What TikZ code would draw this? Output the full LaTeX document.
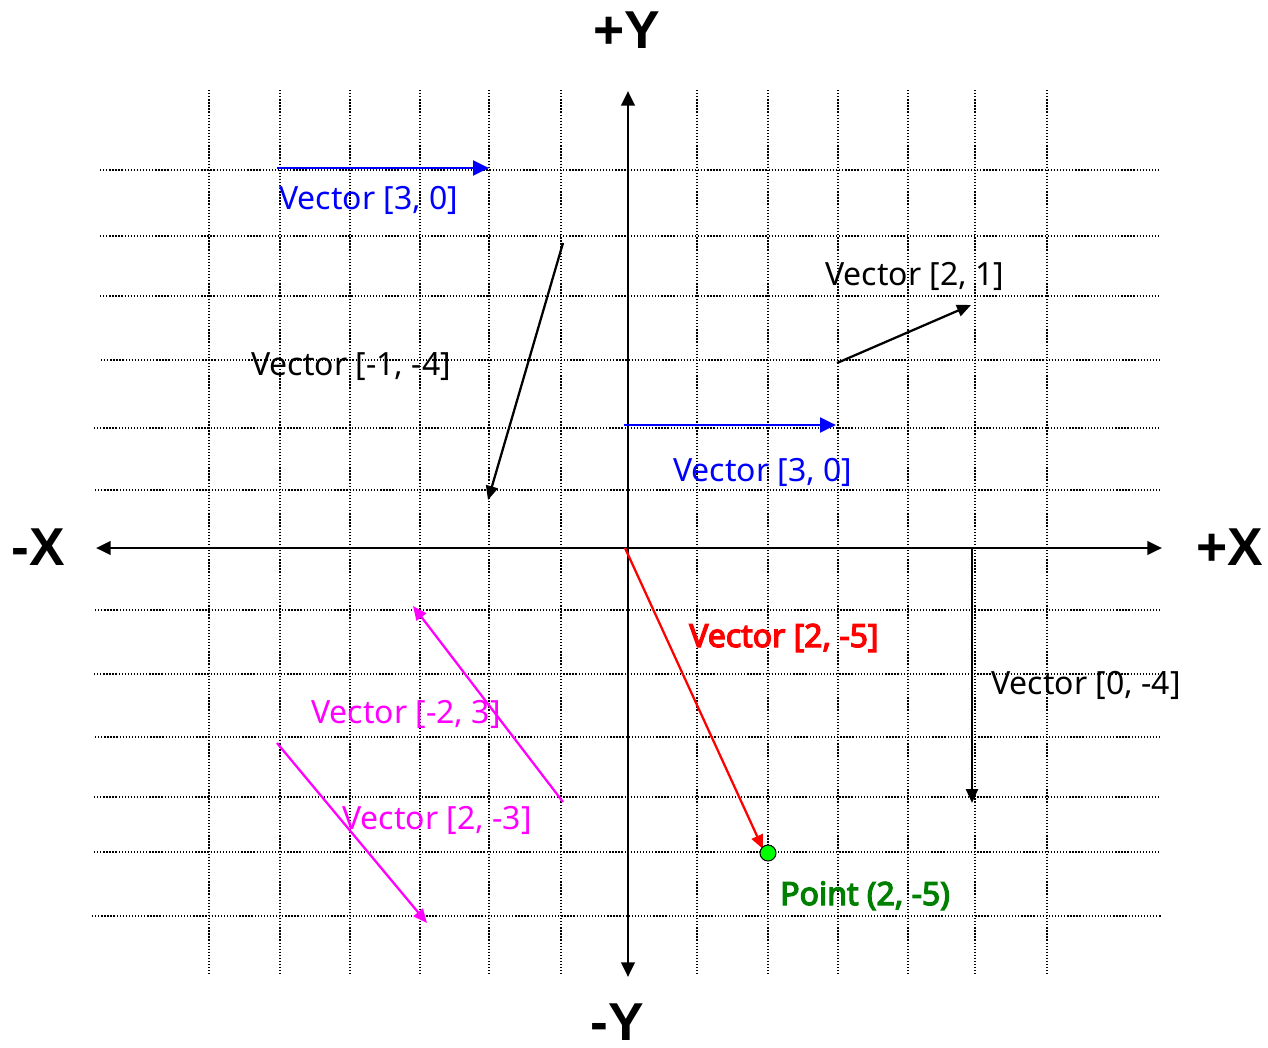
\documentclass[tikz,border=0pt]{standalone}
\usepackage{fontspec}
\setmainfont{Noto Sans}
\newfontfamily\boldvec{Noto Sans}[FakeBold=4]
\newfontfamily\axisfont{Liberation Sans}
\usetikzlibrary{arrows.meta}
\definecolor{vblue}{RGB}{0,0,255}
\definecolor{vmag}{RGB}{255,0,255}
\definecolor{vred}{RGB}{255,0,0}
\definecolor{vgreen}{RGB}{0,128,0}
\definecolor{ptgreen}{RGB}{0,255,0}
\tikzset{
  gridline/.style={line width=1pt, dash pattern=on 1pt off 1.3pt, black},
  axisline/.style={line width=2.2pt, -{Triangle[length=11pt,width=10pt]}},
  axislabel/.style={font=\axisfont\bfseries\fontsize{40}{48}\selectfont, inner sep=0pt},
  veclabel/.style={font=\fontsize{24}{28}\selectfont, inner sep=0pt, anchor=base west},
  boldlabel/.style={veclabel, font=\boldvec\fontsize{24}{28}\selectfont},
  vecbig/.style={line width=2.2pt, -{Triangle[length=12pt,width=11pt]}},
  vecthin/.style={line width=1.7pt, -{Triangle[length=10.5pt,width=9pt]}},
}
\begin{document}
\begin{tikzpicture}[x=0.75pt,y=-0.75pt]
\useasboundingbox (0,0) rectangle (1268,1047);
% grid
\foreach \gx in {209,280,350,420,489,561,697,768,838,908,975,1047}
  \draw[gridline] (\gx,90) -- (\gx,974);
\foreach \gy/\gs in {170/100,236/100,296/100,360/101,428/94,490/95,610/95,674/94,737/95,797/94,852/94,916/92}
  \draw[gridline] (\gs,\gy) -- (1161,\gy);
% axes
\coordinate (O) at (628,548);
\coordinate (xl) at (96,548);
\coordinate (xr) at (1162,548);
\coordinate (yt) at (628,91);
\coordinate (yb) at (628,977);
\draw[axisline] (O) -- (xr);
\draw[axisline] (O) -- (xl);
\draw[axisline] (O) -- (yt);
\draw[axisline] (O) -- (yb);
\node[axislabel] (lY) at (627,30) {+Y};
\node[axislabel] (lmY) at (617,1022) {-Y};
\node[axislabel] (lmX) at (38,547) {-X};
\node[axislabel] (lX) at (1230,547) {+X};
% vectors
\coordinate (b1s) at (277,168); \coordinate (b1e) at (489,168);
\coordinate (b2s) at (624,425); \coordinate (b2e) at (836,425);
\coordinate (k1s) at (563,243); \coordinate (k1e) at (488,500);
\coordinate (k2s) at (837,363); \coordinate (k2e) at (971,305);
\coordinate (k3s) at (972,548); \coordinate (k3e) at (972,803);
\coordinate (rs) at (625,548); \coordinate (re) at (763,849);
\coordinate (m1s) at (563,802); \coordinate (m1e) at (413,606);
\coordinate (m2s) at (277,743); \coordinate (m2e) at (427,923);
\draw[vecbig, vblue] (b1s) -- (b1e);
\draw[vecbig, vblue] (b2s) -- (b2e);
\draw[vecthin, black] (k1s) -- (k1e);
\draw[vecthin, black] (k2s) -- (k2e);
\draw[vecthin, black] (k3s) -- (k3e);
\draw[vecthin, vred] (rs) -- (re);
\draw[vecthin, vmag] (m1s) -- (m1e);
\draw[vecthin, vmag] (m2s) -- (m2e);
\node[circle, draw=black, fill=ptgreen, line width=0.75pt, minimum size=12pt, inner sep=0pt] (pt) at (768,853) {};
% labels
\node[veclabel, text=vblue] (t1) at (279,209) {Vector [3, 0]};
\node[veclabel] (t2) at (825,285) {Vector [2, 1]};
\node[veclabel] (t3) at (251,375) {Vector [-1, -4]};
\node[veclabel, text=vblue] (t4) at (673,481) {Vector [3, 0]};
\node[boldlabel, text=vred] (t5) at (689,647) {Vector [2, -5]};
\node[veclabel] (t6) at (991,694) {Vector [0, -4]};
\node[veclabel, text=vmag] (t7) at (311,723) {Vector [-2, 3]};
\node[veclabel, text=vmag] (t8) at (342,829) {Vector [2, -3]};
\node[boldlabel, text=vgreen] (t9) at (780,905) {Point (2, -5)};
\end{tikzpicture}
\end{document}
